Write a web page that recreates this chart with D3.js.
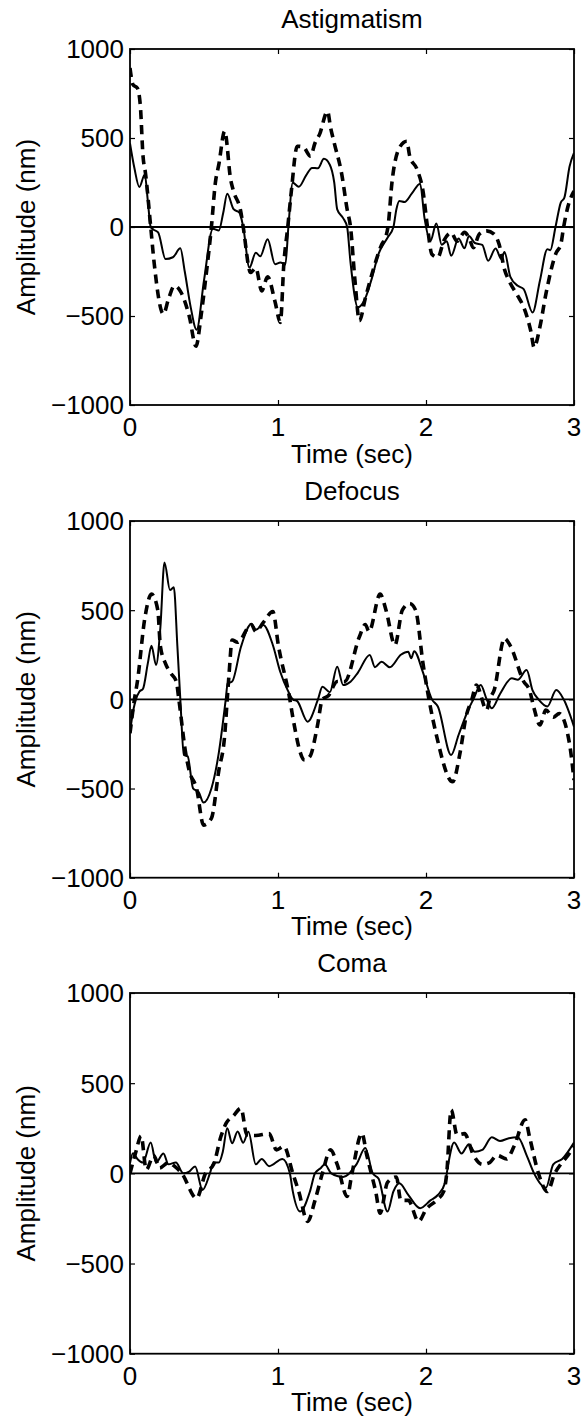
<!DOCTYPE html>
<html>
<head>
<meta charset="utf-8">
<script src="https://cdn.jsdelivr.net/npm/d3@7"></script>
<style>
  html, body { margin: 0; padding: 0; background: #fff; }
  svg { display: block; }
  text { font-family: "Liberation Sans", Arial, Helvetica, sans-serif; fill: #000; }
</style>
</head>
<body>
<svg id="chart" width="582" height="1418"></svg>
<script>
// ---- data ----
const panelTitles = ["Astigmatism", "Defocus", "Coma"];
const xTicks = [0, 1, 2, 3];
const yTicks = [-1000, -500, 0, 500, 1000];
const xLabel = "Time (sec)";
const yLabel = "Amplitude (nm)";

// [time (s), amplitude (nm)]
const astigSolid = [[0,470],[0.03,330],[0.063,225],[0.1,295],[0.12,150],[0.14,0],[0.16,-15],[0.19,-30],[0.24,-180],[0.29,-170],[0.34,-120],[0.37,-250],[0.41,-450],[0.45,-577],[0.5,-300],[0.56,-10],[0.6,-20],[0.63,80],[0.657,187],[0.7,100],[0.74,80],[0.765,0],[0.807,-228],[0.85,-144],[0.88,-165],[0.93,-69],[0.98,-209],[1.016,-200],[1.05,-210],[1.07,0],[1.1,248],[1.14,226],[1.19,290],[1.23,332],[1.27,330],[1.31,383],[1.35,350],[1.38,250],[1.4,99],[1.44,50],[1.467,0],[1.49,-200],[1.54,-452],[1.59,-400],[1.63,-300],[1.68,-150],[1.74,-60],[1.78,0],[1.8,100],[1.82,146],[1.855,140],[1.906,190],[1.96,243],[1.99,50],[2.03,-78],[2.07,19],[2.106,-100],[2.14,-80],[2.17,-162],[2.22,-65],[2.26,-120],[2.29,-50],[2.33,-90],[2.38,-100],[2.42,-190],[2.47,-121],[2.51,-180],[2.53,-140],[2.57,-280],[2.62,-330],[2.66,-349],[2.72,-480],[2.77,-300],[2.82,-125],[2.84,-130],[2.875,0],[2.91,136],[2.935,165],[2.97,340],[3.0,416]];
const astigDashed = [[0,893],[0.02,800],[0.05,780],[0.07,680],[0.088,398],[0.105,300],[0.14,0],[0.163,-200],[0.226,-489],[0.26,-405],[0.3,-330],[0.34,-360],[0.4,-500],[0.446,-670],[0.48,-500],[0.51,-300],[0.55,0],[0.577,250],[0.6,350],[0.64,538],[0.68,267],[0.7,200],[0.75,80],[0.765,0],[0.815,-256],[0.85,-230],[0.89,-359],[0.93,-280],[0.98,-420],[1.016,-536],[1.04,-200],[1.066,0],[1.09,200],[1.13,454],[1.17,450],[1.22,398],[1.25,472],[1.28,519],[1.335,650],[1.355,560],[1.38,472],[1.43,300],[1.467,100],[1.49,0],[1.52,-300],[1.55,-527],[1.59,-400],[1.64,-250],[1.7,-100],[1.73,-50],[1.743,0],[1.77,250],[1.82,444],[1.87,482],[1.89,398],[1.94,323],[1.98,200],[2.01,0],[2.04,-153],[2.08,-170],[2.12,-78],[2.17,-32],[2.21,-80],[2.26,-30],[2.29,-60],[2.32,-116],[2.36,-40],[2.41,-22],[2.46,-40],[2.495,-100],[2.53,-237],[2.56,-300],[2.62,-387],[2.66,-450],[2.71,-592],[2.73,-676],[2.77,-560],[2.81,-377],[2.88,-144],[2.91,-100],[2.93,0],[2.96,118],[3.0,202]];

const defocusSolid = [[0,-181],[0.025,-50],[0.04,0],[0.063,43],[0.088,60],[0.12,200],[0.145,301],[0.176,193],[0.205,400],[0.233,768],[0.27,613],[0.296,628],[0.32,300],[0.34,0],[0.364,-312],[0.39,-320],[0.426,-499],[0.464,-520],[0.497,-579],[0.55,-500],[0.6,-300],[0.647,0],[0.66,90],[0.69,100],[0.75,295],[0.82,422],[0.85,390],[0.9,417],[0.965,305],[1.015,155],[1.066,50],[1.1,0],[1.13,-10],[1.2,-125],[1.27,0],[1.3,71],[1.35,40],[1.4,183],[1.44,80],[1.49,99],[1.54,150],[1.62,249],[1.655,180],[1.7,211],[1.755,180],[1.83,250],[1.88,267],[1.9,230],[1.92,270],[1.98,150],[2.04,0],[2.08,-40],[2.17,-312],[2.22,-200],[2.29,-50],[2.32,0],[2.37,80],[2.41,0],[2.445,-50],[2.5,30],[2.58,118],[2.62,110],[2.68,164],[2.72,50],[2.76,0],[2.82,-40],[2.88,52],[2.93,0],[3.0,-153]];
const defocusDashed = [[0,-190],[0.03,0],[0.05,100],[0.1,454],[0.145,590],[0.188,500],[0.205,300],[0.24,200],[0.276,146],[0.313,100],[0.33,0],[0.376,-300],[0.4,-400],[0.45,-500],[0.497,-705],[0.55,-667],[0.6,-400],[0.64,-200],[0.657,0],[0.67,150],[0.69,333],[0.727,320],[0.82,420],[0.85,380],[0.9,430],[0.965,492],[1.003,300],[1.08,0],[1.1,-100],[1.18,-340],[1.216,-320],[1.266,-150],[1.3,0],[1.34,20],[1.4,100],[1.45,100],[1.55,351],[1.59,420],[1.615,380],[1.69,590],[1.73,500],[1.79,305],[1.84,500],[1.89,538],[1.93,500],[1.98,200],[2.02,0],[2.07,-200],[2.18,-462],[2.23,-300],[2.27,-100],[2.31,0],[2.34,80],[2.41,-60],[2.43,0],[2.46,50],[2.53,342],[2.57,300],[2.66,100],[2.7,50],[2.73,-50],[2.77,-144],[2.81,-60],[2.86,-100],[2.9,-80],[2.97,-250],[3.0,-452]];

const comaSolid = [[0,56],[0.02,112],[0.05,80],[0.088,60],[0.14,171],[0.176,60],[0.226,110],[0.26,50],[0.31,60],[0.36,0],[0.4,10],[0.44,38],[0.49,-92],[0.54,0],[0.565,60],[0.6,60],[0.627,120],[0.657,250],[0.69,167],[0.727,232],[0.765,170],[0.8,230],[0.85,50],[0.89,80],[0.94,40],[1.03,80],[1.08,0],[1.1,-100],[1.15,-212],[1.216,-100],[1.25,0],[1.29,30],[1.316,50],[1.36,0],[1.44,-20],[1.53,50],[1.59,140],[1.64,0],[1.68,-30],[1.74,-212],[1.78,-100],[1.82,-55],[1.88,-119],[1.96,-193],[2.03,-150],[2.08,-120],[2.13,-50],[2.15,50],[2.19,171],[2.24,110],[2.29,162],[2.33,120],[2.38,130],[2.445,200],[2.5,180],[2.56,195],[2.62,200],[2.68,100],[2.73,0],[2.81,-80],[2.86,50],[2.92,80],[3.0,171]];
const comaDashed = [[0,0],[0.04,120],[0.075,208],[0.11,20],[0.16,100],[0.2,30],[0.26,60],[0.3,40],[0.35,0],[0.45,-138],[0.51,0],[0.565,50],[0.614,204],[0.65,278],[0.7,320],[0.75,361],[0.79,213],[0.85,210],[0.94,220],[0.99,130],[1.04,150],[1.1,0],[1.14,-100],[1.2,-267],[1.25,-150],[1.3,0],[1.355,130],[1.4,50],[1.467,-128],[1.5,0],[1.567,222],[1.6,100],[1.63,0],[1.66,-100],[1.69,-221],[1.74,-50],[1.8,-20],[1.83,-150],[1.88,-150],[1.95,-267],[2.0,-200],[2.07,-150],[2.12,-100],[2.14,0],[2.17,352],[2.21,213],[2.26,220],[2.32,102],[2.38,50],[2.43,60],[2.48,100],[2.545,80],[2.595,150],[2.67,297],[2.7,200],[2.76,0],[2.82,-101],[2.87,0],[2.91,50],[2.96,100],[3.0,150]];

const solidSeries = [astigSolid, defocusSolid, comaSolid];
const dashedSeries = [astigDashed, defocusDashed, comaDashed];

// ---- layout ----
const left = 130, right = 574;
const panelTop = [49, 521, 993];
const panelBottom = [405, 877.7, 1353.7];
const fontSize = 26;

const svg = d3.select("#chart");
const defs = svg.append("defs");

const x = d3.scaleLinear().domain([0, 3]).range([left, right]);

panelTitles.forEach((title, i) => {
  const top = panelTop[i], bottom = panelBottom[i];
  const y = d3.scaleLinear().domain([-1000, 1000]).range([bottom, top]);
  const g = svg.append("g");

  defs.append("clipPath").attr("id", "clip" + i)
    .append("rect").attr("x", left).attr("y", top)
    .attr("width", right - left).attr("height", bottom - top);

  const line = d3.line()
    .x(d => x(d[0])).y(d => y(d[1]))
    .curve(d3.curveMonotoneX);

  const plot = g.append("g").attr("clip-path", `url(#clip${i})`);

  // zero line
  plot.append("line")
    .attr("x1", left).attr("x2", right)
    .attr("y1", y(0)).attr("y2", y(0))
    .attr("stroke", "#000").attr("stroke-width", 1.8);

  plot.append("path").datum(dashedSeries[i])
    .attr("d", line).attr("fill", "none")
    .attr("stroke", "#000").attr("stroke-width", 3.6)
    .attr("stroke-dasharray", "9,6");

  plot.append("path").datum(solidSeries[i])
    .attr("d", line).attr("fill", "none")
    .attr("stroke", "#000").attr("stroke-width", 2);

  // axes (MATLAB-style box with inward ticks)
  const tickLen = 5;
  const axB = d3.axisBottom(x).tickValues(xTicks).tickSizeInner(-tickLen).tickSizeOuter(0).tickFormat("");
  const axT = d3.axisTop(x).tickValues(xTicks).tickSizeInner(-tickLen).tickSizeOuter(0).tickFormat("");
  const axL = d3.axisLeft(y).tickValues(yTicks).tickSizeInner(-tickLen).tickSizeOuter(0).tickFormat("");
  const axR = d3.axisRight(y).tickValues(yTicks).tickSizeInner(-tickLen).tickSizeOuter(0).tickFormat("");

  [[axB, `translate(0,${bottom})`], [axT, `translate(0,${top})`],
   [axL, `translate(${left},0)`], [axR, `translate(${right},0)`]].forEach(([ax, tr]) => {
    const a = g.append("g").attr("transform", tr).call(ax);
    a.select(".domain").remove();
    a.selectAll(".tick line").attr("stroke", "#000").attr("stroke-width", 1.2);
  });

  g.append("rect")
    .attr("x", left).attr("y", top)
    .attr("width", right - left).attr("height", bottom - top)
    .attr("fill", "none").attr("stroke", "#000").attr("stroke-width", 1.8);

  // tick labels
  g.selectAll(".xt").data(xTicks).enter().append("text")
    .attr("x", d => x(d)).attr("y", bottom + 31)
    .attr("text-anchor", "middle").attr("font-size", fontSize)
    .text(d => d3.format("d")(d));

  g.selectAll(".yt").data(yTicks).enter().append("text")
    .attr("x", left - 6).attr("y", d => y(d))
    .attr("dy", "0.36em")
    .attr("text-anchor", "end").attr("font-size", fontSize)
    .text(d => d < 0 ? "\u2212" + Math.abs(d) : String(d));

  // title
  g.append("text")
    .attr("x", (left + right) / 2).attr("y", top - 21.5)
    .attr("text-anchor", "middle").attr("font-size", fontSize)
    .text(title);

  // x label
  g.append("text")
    .attr("x", (left + right) / 2).attr("y", bottom + 57.5)
    .attr("text-anchor", "middle").attr("font-size", fontSize)
    .text(xLabel);

  // y label
  g.append("text")
    .attr("transform", `translate(35,${(top + bottom) / 2}) rotate(-90)`)
    .attr("text-anchor", "middle").attr("font-size", fontSize)
    .text(yLabel);
});
</script>
</body>
</html>
